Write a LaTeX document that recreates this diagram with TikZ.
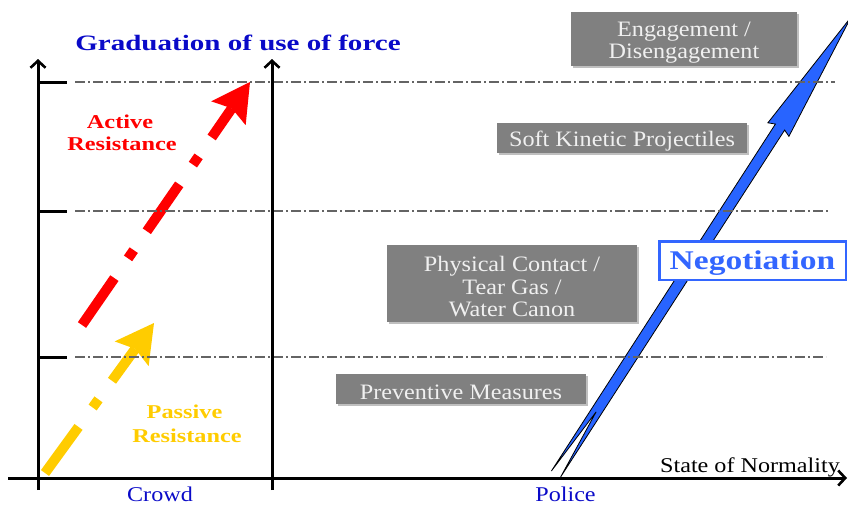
\documentclass[tikz,border=0pt]{standalone}
\usepackage{fontspec}
\setmainfont{Liberation Serif}
\usetikzlibrary{arrows.meta,shadows}
\definecolor{titleblue}{RGB}{10,10,200}
\definecolor{negblue}{RGB}{51,102,255}
\definecolor{arrowblue}{RGB}{40,100,255}
\definecolor{boxgray}{RGB}{128,128,128}
\definecolor{passyellow}{RGB}{255,204,0}
\definecolor{dashgray}{RGB}{100,100,100}
\newcommand{\sx}[2]{\raisebox{-3.5pt}[\height][\depth]{\scalebox{#1}[1]{#2}}}
\newcommand{\tx}[2]{\scalebox{#1}[1]{#2}}
\begin{document}
\begin{tikzpicture}[x=1pt,y=-1pt,
  axisarrow/.style={line width=3pt, black, -{Straight Barb[length=7pt,width=15pt,line width=2.6pt]}},
  levelline/.style={dashgray, line width=1.2pt, dash pattern=on 10pt off 3pt on 2pt off 3pt},
  tickline/.style={line width=3pt, black},
  forcearrow/.style={line width=10pt, dash pattern=on 57pt off 24pt on 10pt off 23pt,
     -{Stealth[length=38pt,width=42pt,inset=6pt,line width=0pt]}},
  graybox/.style={fill=boxgray, text=white!94!black, inner sep=0pt, align=center,
     font=\fontsize{22}{22.5}\selectfont,
     drop shadow={shadow xshift=1.5pt, shadow yshift=-1.5pt}},
  lbl/.style={inner sep=0pt, anchor=base},
  resfont/.style={font=\fontsize{19.6}{22}\selectfont\bfseries},
  axisfont/.style={font=\fontsize{21}{21}\selectfont},
]
\useasboundingbox (0,0) rectangle (848,504);

% blue negotiation arrow
\begin{scope}[shift={(556,474)}, rotate=57.15]
  \draw[fill=arrowblue, line width=0.8pt, line join=miter]
    (0,5.5) -- (413,5.5) -- (410,12.5) -- (544,0) -- (410,-12.5) -- (413,-5.5) -- (0,-5.5) -- (74,0) -- cycle;
\end{scope}

% crowd arrows
\coordinate (redS) at (82,325);
\coordinate (redT) at (250,82);
\coordinate (ylwS) at (45,473);
\coordinate (ylwT) at (154,323);
\draw[forcearrow, red] (redS) -- (redT);
\draw[forcearrow, passyellow] (ylwS) -- (ylwT);

% levels
\coordinate (l1a) at (75,82);  \coordinate (l1b) at (835,82);
\coordinate (l2a) at (75,211); \coordinate (l2b) at (828,211);
\coordinate (l3a) at (75,357); \coordinate (l3b) at (826,357);
\draw[levelline] (l1a) -- (l1b);
\draw[levelline] (l2a) -- (l2b);
\draw[levelline] (l3a) -- (l3b);
\coordinate (t1) at (38,82);  \coordinate (t2) at (38,211); \coordinate (t3) at (38,357);
\draw[tickline] (t1) -- (67,82);
\draw[tickline] (t2) -- (67,211);
\draw[tickline] (t3) -- (67,357);

% axes
\coordinate (ya0) at (38,490);  \coordinate (ya1) at (38,59);
\coordinate (yb0) at (272,490); \coordinate (yb1) at (272,59);
\coordinate (xa0) at (8,478);   \coordinate (xa1) at (847,478);
\draw[axisarrow] (ya0) -- (ya1);
\draw[axisarrow] (yb0) -- (yb1);
\draw[axisarrow] (xa0) -- (xa1);

% gray boxes
\node[graybox, minimum width=226pt, minimum height=54pt] (engage) at (684,39)
  {\sx{1.1}{Engagement /}\\\sx{1.1}{Disengagement}};
\node[graybox, minimum width=250pt, minimum height=30pt] (soft) at (622,138)
  {\sx{1.1}{Soft Kinetic Projectiles}};
\node[graybox, minimum width=250pt, minimum height=77pt] (phys) at (512,283.5)
  {\sx{1.1}{Physical Contact /}\\\sx{1.1}{Tear Gas /}\\\sx{1.1}{Water Canon}};
\node[graybox, minimum width=250pt, minimum height=30pt] (prev) at (461,389)
  {\sx{1.1}{Preventive Measures}};

% negotiation
\node[draw=negblue, line width=2.5pt, fill=white, minimum width=186.5pt, minimum height=38.5pt,
  inner sep=0pt, text=negblue, font=\fontsize{27}{27}\selectfont\bfseries] (nego) at (752.5,260.5)
  {\raisebox{-3pt}[\height][\depth]{\tx{1.24}{Negotiation}}};

% texts
\node[lbl, text=titleblue, font=\fontsize{22}{22}\selectfont\bfseries] (title) at (238,50)
  {\tx{1.32}{Graduation of use of force}};
\node[lbl, resfont, text=red] (act1) at (120,128) {\tx{1.24}{Active}};
\node[lbl, resfont, text=red] (act2) at (122,150) {\tx{1.24}{Resistance}};
\node[lbl, resfont, text=passyellow] (pas1) at (184.5,418) {\tx{1.24}{Passive}};
\node[lbl, resfont, text=passyellow] (pas2) at (187,442) {\tx{1.24}{Resistance}};
\node[lbl, axisfont, text=titleblue] (crowd) at (160,501) {\tx{1.15}{Crowd}};
\node[lbl, axisfont, text=titleblue] (police) at (565.5,501) {\tx{1.15}{Police}};
\node[lbl, axisfont, text=black] (normal) at (750,472) {\tx{1.15}{State of Normality}};
\end{tikzpicture}
\end{document}
